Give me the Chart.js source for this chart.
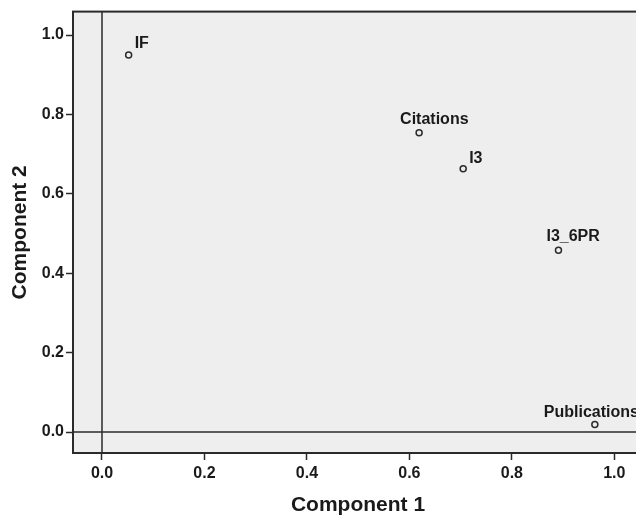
<!DOCTYPE html>
<html>
<head>
<meta charset="utf-8">
<title>Component Plot</title>
<script src="https://cdn.jsdelivr.net/npm/chart.js@4.4.1/dist/chart.umd.min.js"></script>
<style>
    html, body { margin: 0; padding: 0; background: #ffffff; }
    #wrap { width: 636px; height: 516px; overflow: hidden; }
    canvas { display: block; }
</style>
</head>
<body>
<div id="wrap"><canvas id="component-plot" width="660" height="516"></canvas></div>
<script>
// Loadings
const variableNames = ['IF', 'Citations', 'I3', 'I3_6PR', 'Publications'];
const componentOne = [0.052, 0.619, 0.705, 0.891, 0.962];
const componentTwo = [0.950, 0.754, 0.663, 0.458, 0.019];

const xTickValues = [0.0, 0.2, 0.4, 0.6, 0.8, 1.0];
const yTickValues = [0.0, 0.2, 0.4, 0.6, 0.8, 1.0];

// label placement next to each point (left edge / baseline, px)
const labelShift = {
    'IF': [6, -7],
    'Citations': [-19, -9],
    'I3': [6, -6],
    'I3_6PR': [-12, -9],
    'Publications': [-51, -8]
};

const inkColor = '#1a1a1a';
const frameColor = '#2b2b2b';
const panelColor = '#eeeeee';

Chart.defaults.font.family = "'Liberation Sans', Arial, sans-serif";
Chart.defaults.color = inkColor;

const panelPlugin = {
    id: 'panel',
    beforeDraw(chart) {
        const { ctx, chartArea: a } = chart;
        ctx.save();
        ctx.fillStyle = panelColor;
        ctx.fillRect(a.left, a.top, a.right - a.left, a.bottom - a.top);
        ctx.restore();
    },
    beforeDatasetsDraw(chart) {
        // reference lines through zero
        const { ctx, chartArea: a, scales } = chart;
        const x0 = scales.x.getPixelForValue(0);
        const y0 = scales.y.getPixelForValue(0);
        ctx.save();
        ctx.strokeStyle = frameColor;
        ctx.lineWidth = 1.5;
        ctx.beginPath();
        ctx.moveTo(x0, a.top);
        ctx.lineTo(x0, a.bottom);
        ctx.moveTo(a.left, y0);
        ctx.lineTo(a.right, y0);
        ctx.stroke();
        ctx.restore();
    },
    afterDatasetsDraw(chart) {
        const { ctx } = chart;
        const meta = chart.getDatasetMeta(0);
        ctx.save();
        ctx.font = "bold 16px 'Liberation Sans', Arial, sans-serif";
        ctx.fillStyle = inkColor;
        ctx.textAlign = 'left';
        ctx.textBaseline = 'alphabetic';
        meta.data.forEach((pt, i) => {
            const name = variableNames[i];
            const s = labelShift[name] || [6, -7];
            ctx.fillText(name, pt.x + s[0], pt.y + s[1]);
        });
        ctx.restore();
    },
    afterDraw(chart) {
        const { ctx, chartArea: a } = chart;
        ctx.save();
        ctx.strokeStyle = frameColor;
        ctx.lineWidth = 2;
        ctx.strokeRect(a.left, a.top, a.right - a.left, a.bottom - a.top);
        ctx.restore();
    }
};

const points = componentOne.map((v, i) => ({ x: v, y: componentTwo[i] }));

new Chart(document.getElementById('component-plot'), {
    type: 'scatter',
    data: {
        datasets: [{
            label: 'Component Plot',
            data: points,
            pointStyle: 'circle',
            pointRadius: 3,
            pointBorderWidth: 1.5,
            borderColor: frameColor,
            backgroundColor: panelColor
        }]
    },
    options: {
        responsive: false,
        animation: false,
        devicePixelRatio: 1,
        layout: { padding: { top: 10, right: 17, left: 0, bottom: 0 } },
        plugins: {
            legend: { display: false },
            tooltip: { enabled: false }
        },
        scales: {
            x: {
                type: 'linear',
                min: -0.0566,
                max: 1.056,
                afterBuildTicks: (scale) => {
                    scale.ticks = xTickValues.map(v => ({ value: v }));
                },
                afterFit: (scale) => { scale.height = 63; },
                ticks: {
                    padding: 4,
                    font: { size: 16, weight: 'bold' },
                    color: inkColor,
                    callback: (value) => Number(value).toFixed(1)
                },
                grid: {
                    drawOnChartArea: false,
                    drawTicks: true,
                    tickLength: 7,
                    tickColor: frameColor,
                    tickWidth: 1.5
                },
                border: { display: true, color: frameColor, width: 2 },
                title: {
                    display: true,
                    text: 'Component 1',
                    color: inkColor,
                    font: { size: 21, weight: 'bold', lineHeight: 1 },
                    padding: { top: 0, bottom: 0 }
                }
            },
            y: {
                type: 'linear',
                min: -0.0527,
                max: 1.059,
                afterBuildTicks: (scale) => {
                    scale.ticks = yTickValues.map(v => ({ value: v }));
                },
                afterFit: (scale) => { scale.width = 73; },
                ticks: {
                    padding: 2,
                    font: { size: 16, weight: 'bold' },
                    color: inkColor,
                    callback: (value) => Number(value).toFixed(1)
                },
                grid: {
                    drawOnChartArea: false,
                    drawTicks: true,
                    tickLength: 7,
                    tickColor: frameColor,
                    tickWidth: 1.5
                },
                border: { display: true, color: frameColor, width: 2 },
                title: {
                    display: true,
                    text: 'Component 2',
                    color: inkColor,
                    font: { size: 21, weight: 'bold', lineHeight: 1 },
                    padding: { top: 10, bottom: 0 }
                }
            }
        }
    },
    plugins: [panelPlugin]
});
</script>
</body>
</html>
